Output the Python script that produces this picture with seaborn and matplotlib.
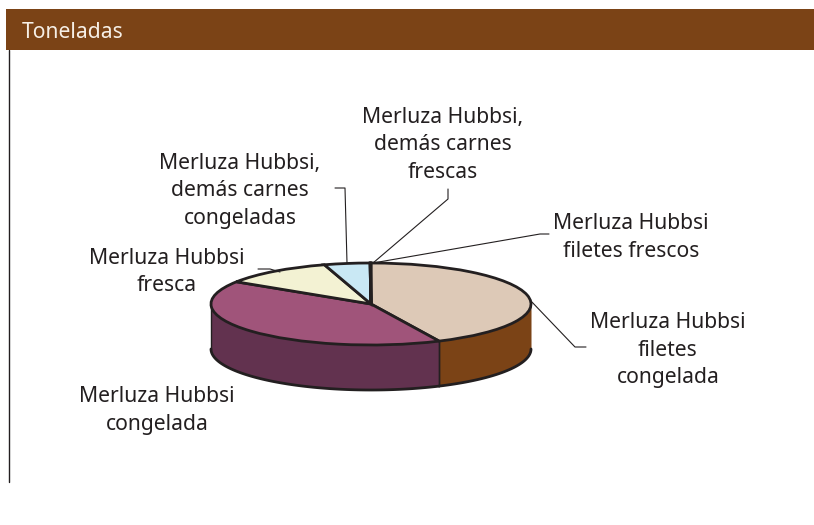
import numpy as np
import matplotlib
matplotlib.use("Agg")
import matplotlib.pyplot as plt
import seaborn as sns

sns.set_theme(style="white")
plt.rcParams['font.family'] = ['Noto Sans', 'DejaVu Sans']

W, H = 814, 525
INK = "#231f20"
BROWN = "#7b4316"

# Data (shares, clockwise from 12 o'clock)
categories = ["Merluza Hubbsi\nfiletes\ncongelada", "Merluza Hubbsi\ncongelada",
              "Merluza Hubbsi\nfresca", "Merluza Hubbsi,\ndemás carnes\ncongeladas",
              "Merluza Hubbsi,\ndemás carnes\nfrescas", "Merluza Hubbsi\nfiletes frescos"]
values = [43.0, 41.1, 11.2, 4.6, 0.05, 0.05]
top_colors = ["#ddc9b7", "#a0547a", "#f3f2d3", "#c9e8f4", "#c9e8f4", "#ddc9b7"]
wall_colors = [BROWN, "#62324f", "#62324f", "#62324f", "#62324f", BROWN]
title = "Toneladas"

# Layout in reference pixels
CX, CY, RX, RY, DEPTH = 371, 304, 160, 41, 45
label_pos = [(668, 350), (157, 410.5), (167, 272), (240, 191), (443, 145), (631, 237.5)]
leaders = [[(530, 300), (575, 347), (586, 347)],
           [],
           [(258, 269), (270, 269), (280, 272)],
           [(347, 263), (345, 188), (335, 188)],
           [(373, 263), (448, 199), (448, 189)],
           [(373, 263), (540, 234), (549, 234)]]

fig = plt.figure(figsize=(W / 100, H / 100), dpi=100, facecolor="white")

# Overlay axes in pixel units
ov = fig.add_axes([0, 0, 1, 1], zorder=3)
ov.set_xlim(0, W); ov.set_ylim(H, 0); ov.axis("off"); ov.patch.set_alpha(0)
# Pie axes: unit circle squashed to the ellipse
ax = fig.add_axes([0, 0, 1, 1], zorder=2)

wedges, _ = ax.pie(values, startangle=90, counterclock=False, radius=1, center=(0, 0),
                   colors=top_colors,
                   wedgeprops=dict(edgecolor=INK, linewidth=2.0, zorder=5))
ax.set_aspect("auto")
ax.set_xlim((0 - CX) / RX, (W - CX) / RX)
ax.set_ylim((CY - H) / RY, (CY - 0) / RY)
ax.patch.set_alpha(0)

d = DEPTH / RY
for w, wc in zip(wedges, wall_colors):
    # keep only the part of the slice rim on the front half of the ellipse
    a1, a2 = w.theta1 % 360, w.theta2 % 360
    if a2 <= a1:
        a2 += 360
    lo, hi = max(a1, 180), min(a2, 360)
    if hi <= lo:
        continue
    t = np.radians(np.linspace(lo, hi, 120))
    x, y = np.cos(t), np.sin(t)
    ax.fill_between(x, y - d, y, color=wc, linewidth=0, zorder=2)
    ax.plot(x, y - d, color=INK, lw=2.0, zorder=3)
    for end in (0, -1):
        if x[end] < 0.999:
            ax.plot([x[end], x[end]], [y[end], y[end] - d], color=INK, lw=1.0, zorder=3)

# Header band and left rule
ov.fill_between([6, W], 9, 50, color=BROWN, linewidth=0)
ov.plot([9, 9], [50, 482], color=INK, lw=1.0)
ov.text(22, 33, title, color="#f6efe6", fontsize=15.2, va="center", ha="left")

for name, (lx, ly), path in zip(categories, label_pos, leaders):
    ov.text(lx, ly, name, ha="center", va="center", fontsize=15.2, color=INK,
            linespacing=1.42, multialignment="center")
    if path:
        xs, ys = zip(*path)
        ov.plot(xs, ys, color=INK, lw=0.8)

fig.savefig("out.png", dpi=100)
